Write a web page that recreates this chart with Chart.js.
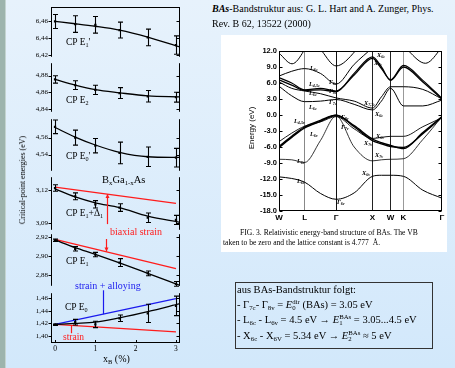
<!DOCTYPE html>
<html><head><meta charset="utf-8">
<script src="https://cdn.jsdelivr.net/npm/chart.js@4"></script>
<style>
html,body{margin:0;padding:0;}
body{width:455px;height:368px;position:relative;overflow:hidden;background:linear-gradient(#e7f2fc,#d2e8fb);font-family:"Liberation Serif","Times New Roman",serif;color:#000;}
.strip{position:absolute;left:0;top:0;width:5px;height:368px;background:#9db4ad;}
.strip2{position:absolute;left:5px;top:0;width:1px;height:368px;background:#c4d4d0;}
canvas{position:absolute;}
.t{position:absolute;white-space:nowrap;line-height:12px;}
.t sub{font-size:65%;vertical-align:-0.3em;line-height:0;}
.t sup{font-size:65%;vertical-align:0.45em;line-height:0;}
.ss{display:inline-block;vertical-align:-0.35em;font-size:6.8px;line-height:6px;text-align:left;}
.bl{font-style:italic;font-weight:bold;}
#white{position:absolute;left:221px;top:35px;width:226px;height:217px;background:#fff;overflow:hidden;}
#box{position:absolute;left:235px;top:282px;width:196px;height:65px;border:1px solid #333;}
</style></head><body>
<div class="strip"></div><div class="strip2"></div>
<div id="white"></div>
<div id="box"></div>
<script>
// ---------- data: left panels (x_B in %) ----------
const xB = [0, 0.5, 1.0, 1.6, 2.3, 3.0];
const fitX = [0, 0.5, 1.0, 1.6, 2.3, 3.1];
const xTicks = [0, 1, 2, 3];
const lineX = [0, 3];

const e1pVal = [6.4600, 6.4569, 6.4560, 6.4497, 6.4409, 6.4317];
const e1pErr = [0.0084, 0.0100, 0.0099, 0.0095, 0.0099, 0.0110];
const e1pFit = [6.4600, 6.4573, 6.4543, 6.4497, 6.4414, 6.4295];
const e1pTicks = [6.42, 6.44, 6.46];

const e2Val = [4.8754, 4.8686, 4.8629, 4.8591, 4.8552, 4.8541];
const e2Err = [0.0044, 0.0053, 0.0055, 0.0065, 0.0069, 0.0059];
const e2Fit = [4.8754, 4.8686, 4.8632, 4.8594, 4.8557, 4.8545];
const e2Ticks = [4.84, 4.86, 4.88];

const e0pVal = [4.5728, 4.5600, 4.5505, 4.5419, 4.5374, 4.5363];
const e0pErr = [0.0081, 0.0089, 0.0085, 0.0128, 0.0115, 0.0110];
const e0pFit = [4.5720, 4.5607, 4.5513, 4.5426, 4.5374, 4.5366];
const e0pTicks = [4.54, 4.56];

const e1dVal = [3.1217, 3.1143, 3.1071, 3.1042, 3.0951, 3.0931];
const e1dErr = [0.0029, 0.0031, 0.0033, 0.0034, 0.0043, 0.0041];
const e1dFit = [3.1209, 3.1137, 3.1085, 3.1042, 3.0965, 3.0909];
const e1dRed = [3.1225, 3.1080];
const e1dTicks = [3.09, 3.12];

const e1Val = [2.9164, 2.9075, 2.9015, 2.8932, 2.8820, 2.8711];
const e1Err = [0.0012, 0.0023, 0.0023, 0.0041, 0.0025, 0.0025];
const e1Fit = [2.9167, 2.9088, 2.9018, 2.8929, 2.8820, 2.8694];
const e1Red = [2.9174, 2.8870];
const e1Ticks = [2.88, 2.90, 2.92];

const e0Val = [1.4180, 1.4220, 1.4185, 1.4282, 1.4358, 1.4477];
const e0Err = [0.0010, 0.0044, 0.0051, 0.0051, 0.0144, 0.0154];
const e0Fit = [1.4185, 1.4200, 1.4220, 1.4288, 1.4385, 1.4512];
const e0Blue = [1.4185, 1.4590];
const e0Red = [1.4185, 1.4066];
const e0Ticks = [1.40, 1.42, 1.44, 1.46];

// annotation connectors (x_B, energy from, energy to)
const biaxUp = [1.28, 3.0894, 3.1163];
const biaxDown = [1.265, 2.9177, 2.9046];
const alloyConn = [1.19, 1.4723, 1.4346];
const strainConn = [0.40, 1.4169, 1.4046];

// ---------- data: band structure ----------
const kPos = [0, 0.707, 1.573, 2.573, 3.073, 3.427, 4.488];
const kLabels = ['W', 'L', 'Γ', 'X', 'W', 'K', 'Γ'];
const eTicks = [-18, -15, -12, -9, -6, -3, 0, 3, 6, 9, 12];
const vb1 = [[0,-11.6],[0.35,-11.9],[0.707,-12.6],[1.14,-14.7],[1.573,-15.8],[2.07,-14.6],[2.573,-11.5],[2.82,-11.3],[3.073,-11.3],[3.427,-11.5],[3.96,-14.1],[4.488,-15.6]];
const vb2 = [[0,-8.3],[0.35,-8.4],[0.707,-8.9],[1.14,-4.8],[1.573,-0.2],[2.07,-6.0],[2.573,-8.6],[2.82,-8.4],[3.073,-8.3],[3.427,-8.2],[3.96,-4.6],[4.488,-0.3]];
const vb3 = [[0,-5.9],[0.35,-4.0],[0.707,-2.2],[1.14,-1.0],[1.573,-0.05],[2.07,-2.0],[2.573,-4.5],[2.82,-5.2],[3.073,-5.7],[3.427,-6.3],[3.96,-3.3],[4.488,-0.3]];
const vb4 = [[0,-6.1],[0.35,-4.2],[0.707,-2.4],[1.14,-1.2],[1.573,-0.05],[2.07,-2.2],[2.573,-4.8],[2.82,-5.4],[3.073,-5.9],[3.427,-6.1],[3.96,-3.5],[4.488,-0.4]];
const vb5 = [[0,-5.0],[0.35,-3.4],[0.707,-2.1],[1.14,-1.3],[1.573,-0.3],[2.07,-2.6],[2.573,-4.4],[2.82,-4.2],[3.073,-4.0],[3.427,-4.0],[3.96,-2.2],[4.488,-0.5]];
const cb1 = [[0,5.4],[0.35,3.6],[0.707,2.5],[1.14,2.6],[1.573,2.9],[2.07,2.0],[2.573,0.95],[2.82,2.6],[3.073,5.0],[3.427,1.7],[3.96,1.7],[4.488,2.8]];
const cb2 = [[0,6.2],[0.35,5.0],[0.707,4.5],[1.14,4.0],[1.573,3.2],[2.07,2.6],[2.573,1.3],[2.82,3.4],[3.073,5.3],[3.427,5.3],[3.96,4.8],[4.488,3.0]];
const cb3 = [[0,6.6],[0.35,5.6],[0.707,4.6],[1.14,4.7],[1.573,4.4],[2.07,7.8],[2.573,10.9],[2.82,9.0],[3.073,6.5],[3.427,9.0],[3.96,6.2],[4.488,3.0]];
const cb4 = [[0,7.0],[0.35,6.0],[0.707,4.7],[1.14,5.0],[1.573,4.5],[2.07,7.5],[2.573,10.6],[2.82,8.7],[3.073,6.6],[3.427,9.3],[3.96,6.5],[4.488,3.1]];
const cb5 = [[0,7.3],[0.35,8.2],[0.707,8.7],[1.14,7.8],[1.573,5.8],[2.07,9.5],[2.573,12.6]];
const cb6 = [[0,11.6],[0.36,9.6],[0.68,12.0],[0.72,12.6]];
const cb7 = [[1.12,12.6],[1.18,12.0],[1.573,9.2],[2.10,12.0],[2.16,12.6]];
const cb8 = [[3.50,12.6],[3.57,12.0],[4.03,9.7],[4.40,12.0],[4.45,12.6]];
const bandLabels = [
  ['L<sub>6c</sub>', 89, 33], ['L<sub>4,5c</sub>', 88, 49], ['L<sub>6c</sub>', 88, 58], ['L<sub>6c</sub>', 88, 72],
  ['Γ<sub>6c</sub>', 108, 47], ['Γ<sub>8c</sub>', 108, 56], ['Γ<sub>7c</sub>', 108, 67],
  ['X<sub>6c</sub>', 156, 20], ['X<sub>7c</sub>', 153, 28], ['X<sub>7,7c</sub>', 143, 68], ['X<sub>6c</sub>', 154, 79],
  ['L<sub>4,5v</sub>', 73, 86], ['L<sub>6v</sub>', 89, 99], ['Γ<sub>8v</sub>', 120, 82], ['Γ<sub>7v</sub>', 120, 92],
  ['X<sub>6v</sub>', 155, 101], ['X<sub>7v</sub>', 143, 108], ['X<sub>7v</sub>', 154, 120],
  ['L<sub>6v</sub>', 76, 126], ['X<sub>6v</sub>', 141, 138], ['L<sub>6v</sub>', 76, 146], ['Γ<sub>6v</sub>', 116, 167]
];

// ---------- helpers ----------
const SERIF = '"Liberation Serif", "Times New Roman", serif';
const SANS = '"Liberation Sans", Arial, sans-serif';
const RED = '#ff1c1c', BLUE = '#1a1aee';
const pts = (xs, ys) => xs.map((x, i) => ({x, y: ys[i]}));

function text(html, left, cy, size, extra) {
  const d = document.createElement('div');
  d.className = 't';
  d.innerHTML = html;
  d.style.left = left + 'px';
  d.style.top = (cy - 6) + 'px';
  d.style.fontSize = size + 'px';
  const parent = extra && extra.parent ? extra.parent : document.body;
  if (extra) { const e = Object.assign({}, extra); delete e.parent; Object.assign(d.style, e); }
  parent.appendChild(d);
  return d;
}

const framePlugin = {
  id: 'frame',
  afterDraw(chart, args, opts) {
    const {ctx, chartArea: a, scales: {x, y}} = chart;
    ctx.save(); ctx.strokeStyle = '#000'; ctx.lineWidth = 1;
    const L = Math.round(a.left) + 0.5, R = Math.round(a.right) - 0.5;
    const T = Math.round(a.top) + 0.5, B = Math.round(a.bottom) - 0.5;
    ctx.beginPath();
    ctx.moveTo(L, a.top); ctx.lineTo(L, a.bottom);
    ctx.moveTo(R, a.top); ctx.lineTo(R, a.bottom);
    if (opts.top) { ctx.moveTo(a.left, T); ctx.lineTo(a.right, T); }
    if (opts.bottom) {
      ctx.moveTo(a.left, B); ctx.lineTo(a.right, B);
      xTicks.forEach(v => {
        const px = Math.round(x.getPixelForValue(v)) + 0.5;
        ctx.moveTo(px, a.bottom); ctx.lineTo(px, a.bottom - 3);
      });
    }
    y.ticks.forEach(t => {
      const py = Math.round(y.getPixelForValue(t.value)) + 0.5;
      ctx.moveTo(L - 3, py); ctx.lineTo(L, py);
      ctx.moveTo(R - 3, py); ctx.lineTo(R, py);
    });
    ctx.stroke(); ctx.restore();
  }
};

const errPlugin = {
  id: 'errbars',
  afterDatasetsDraw(chart) {
    const {ctx, scales: {x, y}} = chart;
    chart.data.datasets.forEach(ds => {
      if (!ds.errors) return;
      ctx.save(); ctx.strokeStyle = '#000'; ctx.lineWidth = 1.1; ctx.beginPath();
      ds.data.forEach((p, i) => {
        const e = ds.errors[i];
        const px = Math.round(x.getPixelForValue(p.x)) + 0.5;
        const y1 = y.getPixelForValue(p.y + e), y2 = y.getPixelForValue(p.y - e);
        ctx.moveTo(px, y1); ctx.lineTo(px, y2);
        ctx.moveTo(px - 2.5, y1); ctx.lineTo(px + 2.5, y1);
        ctx.moveTo(px - 2.5, y2); ctx.lineTo(px + 2.5, y2);
      });
      ctx.stroke(); ctx.restore();
    });
  }
};

function connPlugin(items) {
  return {
    id: 'conn',
    afterDatasetsDraw(chart) {
      const {ctx, scales: {x, y}} = chart;
      items.forEach(it => {
        const [xv, from, to] = it.c;
        const px = Math.round(x.getPixelForValue(xv)) + 0.5;
        const p1 = y.getPixelForValue(from), p2 = y.getPixelForValue(to);
        ctx.save(); ctx.strokeStyle = it.color; ctx.fillStyle = it.color; ctx.lineWidth = 1.2;
        ctx.beginPath(); ctx.moveTo(px, p1); ctx.lineTo(px, p2); ctx.stroke();
        if (it.arrow) {
          const dir = p2 < p1 ? 1 : -1;
          ctx.beginPath(); ctx.moveTo(px, p2); ctx.lineTo(px - 2, p2 + dir * 4); ctx.lineTo(px + 2, p2 + dir * 4); ctx.closePath(); ctx.fill();
        }
        ctx.restore();
      });
    }
  };
}

const panels = [
  {top: 6, bottom: 58, min: 6.4177, max: 6.4771, val: e1pVal, err: e1pErr, fit: e1pFit, ticks: e1pTicks, topLine: true},
  {top: 62, bottom: 113, min: 4.8366, max: 4.8949, val: e2Val, err: e2Err, fit: e2Fit, ticks: e2Ticks},
  {top: 118, bottom: 172, min: 4.5208, max: 4.5818, val: e0pVal, err: e0pErr, fit: e0pFit, ticks: e0pTicks},
  {top: 176, bottom: 231, min: 3.0843, max: 3.1314, val: e1dVal, err: e1dErr, fit: e1dFit, ticks: e1dTicks,
    lines: [{y: e1dRed, color: RED}], conns: [{c: biaxUp, color: RED, arrow: true}]},
  {top: 233, bottom: 287, min: 2.8691, max: 2.9227, val: e1Val, err: e1Err, fit: e1Fit, ticks: e1Ticks,
    lines: [{y: e1Red, color: RED}], conns: [{c: biaxDown, color: RED, arrow: true}]},
  {top: 292, bottom: 343, min: 1.3892, max: 1.4677, val: e0Val, err: e0Err, fit: e0Fit, ticks: e0Ticks,
    lines: [{y: e0Blue, color: BLUE}, {y: e0Red, color: RED}],
    conns: [{c: alloyConn, color: BLUE}, {c: strainConn, color: RED}], bottomAxis: true}
];

panels.forEach(p => {
  const pad = 6, axisH = 22;
  const c = document.createElement('canvas');
  const h = (p.bottom - p.top) + pad + (p.bottomAxis ? axisH : pad);
  c.width = 200; c.height = h;
  c.style.left = '0px'; c.style.top = (p.top - pad) + 'px';
  c.style.width = '200px'; c.style.height = h + 'px';
  document.body.appendChild(c);
  const datasets = [
    {data: pts(fitX, p.fit), borderColor: '#000', borderWidth: 1.3, pointRadius: 0, cubicInterpolationMode: 'monotone', tension: 0.4},
    {data: pts(xB, p.val), showLine: false, pointStyle: 'rect', pointRadius: 1.6, backgroundColor: '#000', borderWidth: 0, errors: p.err}
  ];
  (p.lines || []).forEach(l => datasets.push({data: pts(lineX, l.y), borderColor: l.color, borderWidth: 1.3, pointRadius: 0}));
  new Chart(c, {
    type: 'line',
    data: {datasets},
    options: {
      responsive: false, animation: false, events: [],
      layout: {padding: {top: pad, bottom: p.bottomAxis ? 0 : pad, left: 0, right: 20}},
      plugins: {legend: {display: false}, tooltip: {enabled: false}, frame: {top: !!p.topLine, bottom: !!p.bottomAxis}},
      scales: {
        x: {type: 'linear', min: -0.1, max: 3.1, display: !!p.bottomAxis,
          afterBuildTicks: s => { s.ticks = xTicks.map(v => ({value: v})); },
          afterFit: s => { s.height = p.bottomAxis ? axisH : 0; },
          grid: {display: false, drawTicks: false}, border: {display: false},
          ticks: {font: {family: SERIF, size: 7.5}, color: '#000', padding: 2, maxRotation: 0, callback: v => String(v)}},
        y: {type: 'linear', min: p.min, max: p.max,
          afterBuildTicks: s => { s.ticks = p.ticks.map(v => ({value: v})); },
          afterFit: s => { s.width = 51; },
          grid: {display: false, drawTicks: false}, border: {display: false},
          ticks: {font: {family: SERIF, size: 7}, color: '#000', padding: 3, callback: v => v.toFixed(2).replace('.', ',')}}
      }
    },
    plugins: [framePlugin, errPlugin, connPlugin(p.conns || [])]
  });
});

// left panel texts
text("CP E<sub>1</sub>'", 66, 42, 9.5);
text("CP E<sub>2</sub>", 66, 100, 9.5);
text("CP E<sub>0</sub>'", 66, 156, 9.5);
text("B<sub>x</sub>Ga<sub>1-x</sub>As", 102, 180, 10.5);
text("CP E<sub>1</sub>+Δ<sub>1</sub>", 66, 213, 9.5);
text("biaxial strain", 110, 232, 10, {color: RED});
text("CP E<sub>1</sub>", 66, 261, 9.5);
text("strain + alloying", 75, 286, 10, {color: BLUE});
text("CP E<sub>0</sub>", 65, 307, 9.5);
text("strain", 63, 337, 9.5, {color: RED});
text("x<sub>B</sub> (%)", 103, 359, 10);
text("Critical-point energies (eV)", 23, 180, 8, {transform: 'translate(-50%,-50%) rotate(-90deg)', top: '180px'});

// header
text("<b><i>BAs</i></b>-Bandstruktur aus: G. L. Hart and A. Zunger, Phys.", 212, 9, 10);
text("Rev. B 62, 13522 (2000)", 212, 24, 10);

// ---------- band structure chart ----------
const white = document.getElementById('white');
const bc = document.createElement('canvas');
bc.width = 225; bc.height = 188;
bc.style.left = '1px'; bc.style.top = '5px'; bc.style.width = '225px'; bc.style.height = '188px';
white.appendChild(bc);
const gridCols = ['rgba(0,0,0,0)', '#888', '#111', '#222', '#222', '#999', 'rgba(0,0,0,0)'];
const bands = [
  [vb1, 1.0], [vb2, 0.8], [vb3, 1.4], [vb4, 1.4], [vb5, 0.9],
  [cb1, 1.0], [cb2, 1.0], [cb3, 1.3], [cb4, 1.2], [cb5, 1.0], [cb6, 1.0], [cb7, 1.0], [cb8, 1.0]
];
const bandFrame = {
  id: 'bframe',
  afterDraw(chart) {
    const {ctx, chartArea: a, scales: {y}} = chart;
    ctx.save(); ctx.strokeStyle = '#000'; ctx.lineWidth = 1;
    const L = Math.round(a.left) + 0.5, R = Math.round(a.right) - 0.5;
    const T = Math.round(a.top) + 0.5, B = Math.round(a.bottom) - 0.5;
    ctx.strokeRect(L, T, R - L, B - T);
    ctx.beginPath();
    y.ticks.forEach(t => {
      const py = Math.round(y.getPixelForValue(t.value)) + 0.5;
      ctx.moveTo(L, py); ctx.lineTo(L + 3, py);
      ctx.moveTo(R, py); ctx.lineTo(R - 3, py);
    });
    ctx.stroke(); ctx.restore();
  }
};
new Chart(bc, {
  type: 'line',
  data: {datasets: bands.map(([b, w]) => ({
    data: b.map(([k, e]) => ({x: k, y: e})), borderColor: '#000', borderWidth: w,
    pointRadius: 0, cubicInterpolationMode: 'monotone', tension: 0.4}))},
  options: {
    responsive: false, animation: false, events: [],
    layout: {padding: {top: 11, right: 5, left: 0, bottom: 0}},
    plugins: {legend: {display: false}, tooltip: {enabled: false}},
    scales: {
      x: {type: 'linear', min: 0, max: 4.488,
        afterBuildTicks: s => { s.ticks = kPos.map(v => ({value: v})); },
        afterFit: s => { s.height = 17; },
        grid: {display: true, drawTicks: false, color: c => gridCols[c.index] || '#222', lineWidth: 1},
        border: {display: false},
        ticks: {font: {family: SANS, size: 8, weight: 'bold'}, color: '#000', padding: 2, maxRotation: 0, autoSkip: false,
          callback: (v, i) => kLabels[i]}},
      y: {type: 'linear', min: -18, max: 12,
        afterBuildTicks: s => { s.ticks = eTicks.map(v => ({value: v})); },
        afterFit: s => { s.width = 57; },
        grid: {display: false, drawTicks: false}, border: {display: false},
        ticks: {font: {family: SANS, size: 7.5, weight: 'bold'}, color: '#000', padding: 2, callback: v => v.toFixed(1)}}
    }
  },
  plugins: [bandFrame]
});
bandLabels.forEach(([h, x, y]) => text(h, x, y, 6.3, {parent: white, fontStyle: 'italic', fontWeight: 'bold'}));
text("Energy (eV)", 31, 93, 8, {parent: white, fontFamily: SANS, transform: 'translate(-50%,-50%) rotate(-90deg)', top: '93px'});
text("FIG. 3. Relativistic energy-band structure of BAs. The VB", 19, 198, 7.6, {parent: white});
text("taken to be zero and the lattice constant is 4.777&nbsp; Å.", 2, 208, 7.6, {parent: white});

// ---------- text box ----------
text("aus BAs-Bandstruktur folgt:", 237, 290, 10.5);
text("- Γ<sub>7c</sub>- Γ<sub>8v</sub> = <i>E</i><span class='ss'>dir<br>0</span> (BAs) = 3.05 eV", 237, 305, 10.5);
text("- L<sub>6c</sub> - L<sub>6v</sub> = 4.5 eV → <i>E</i><span class='ss'>BAs<br>1</span> = 3.05...4.5 eV", 237, 320, 10.5);
text("- X<sub>6c</sub> - X<sub>6V</sub> = 5.34 eV → <i>E</i><span class='ss'>BAs<br>2</span> ≈ 5 eV", 237, 336, 10.5);
</script>
</body></html>
